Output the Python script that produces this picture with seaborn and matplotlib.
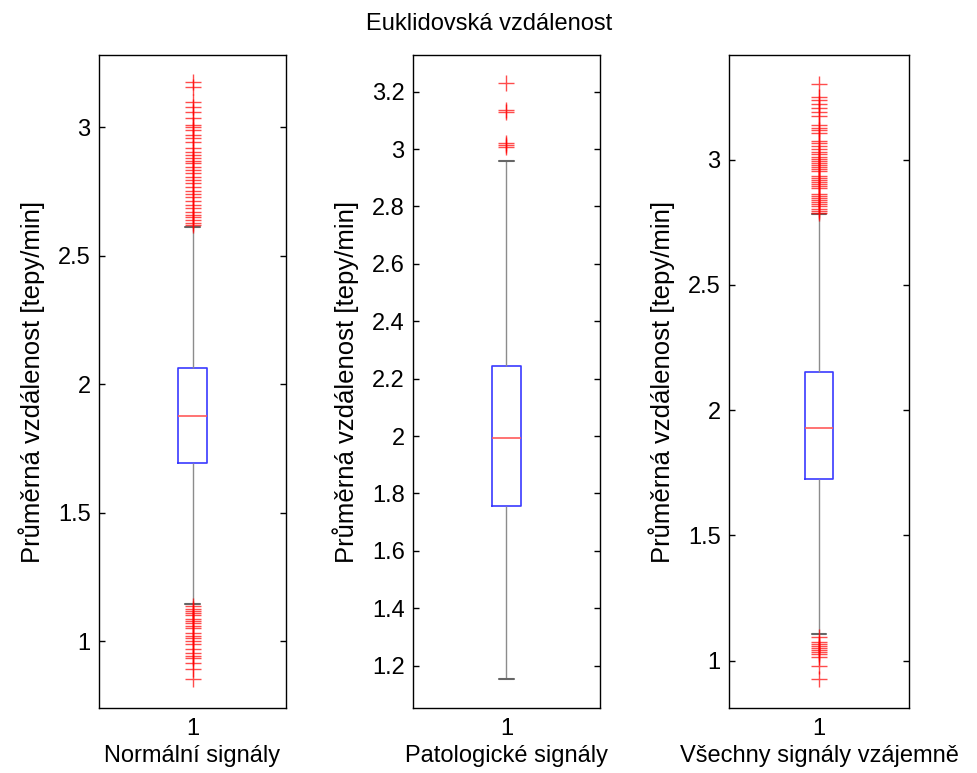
import matplotlib
matplotlib.use("Agg")
import matplotlib.pyplot as plt
import seaborn as sns

# ---- texts -------------------------------------------------------------
title = "Euklidovská vzdálenost"
y_label = "Průměrná vzdálenost [tepy/min]"
group_labels = ["Normální signály", "Patologické signály", "Všechny signály vzájemně"]
category = "1"

# ---- five-number summaries: lower whisker, Q1, median, Q3, upper whisker
normal_summary = [1.144, 1.695, 1.878, 2.062, 2.613]
patho_summary = [1.153, 1.755, 1.994, 2.244, 2.959]
all_summary = [1.106, 1.727, 1.928, 2.151, 2.784]

# ---- outliers ----------------------------------------------------------
normal_outliers = [3.174, 3.158, 3.097, 3.080, 3.061, 3.035, 3.009, 3.000, 2.990,
                   2.970, 2.957, 2.944, 2.918, 2.905, 2.892, 2.879, 2.870, 2.860,
                   2.847, 2.834, 2.823, 2.808, 2.795, 2.782, 2.769, 2.753, 2.740,
                   2.728, 2.714, 2.698, 2.685, 2.672, 2.659, 2.649, 2.637, 2.626,
                   2.619,
                   1.135, 1.126, 1.118, 1.109, 1.102, 1.087, 1.079, 1.070, 1.061,
                   1.051, 1.031, 1.022, 1.012, 1.001, 0.990, 0.971, 0.953, 0.944,
                   0.934, 0.914, 0.893, 0.854]
patho_outliers = [3.229, 3.138, 3.128, 3.022, 3.014, 3.006]
all_outliers = [3.304, 3.250, 3.237, 3.221, 3.205, 3.189, 3.173, 3.137, 3.127,
                3.119, 3.106, 3.076, 3.066, 3.055, 3.041, 3.031, 3.023, 3.009,
                3.001, 2.993, 2.985, 2.977, 2.969, 2.961, 2.953, 2.936, 2.928,
                2.920, 2.912, 2.902, 2.894, 2.886, 2.865, 2.857, 2.848, 2.840,
                2.832, 2.824, 2.816, 2.802, 2.795, 2.788,
                1.094, 1.075, 1.067, 1.059, 1.051, 1.043, 1.035, 1.027, 1.015,
                0.977, 0.928]

# ---- axis ticks and limits --------------------------------------------
ticks_a = [1, 1.5, 2, 2.5, 3]
tick_labels_a = ["1", "1.5", "2", "2.5", "3"]
ticks_b = [1.2, 1.4, 1.6, 1.8, 2.0, 2.2, 2.4, 2.6, 2.8, 3.0, 3.2]
tick_labels_b = ["1.2", "1.4", "1.6", "1.8", "2", "2.2", "2.4", "2.6", "2.8", "3", "3.2"]
ylims = [(0.740, 3.281), (1.052, 3.328), (0.811, 3.418)]

panels = [
    (normal_summary, normal_outliers, group_labels[0], ticks_a, tick_labels_a, ylims[0]),
    (patho_summary, patho_outliers, group_labels[1], ticks_b, tick_labels_b, ylims[1]),
    (all_summary, all_outliers, group_labels[2], ticks_a, tick_labels_a, ylims[2]),
]

sns.set_theme(style="white", rc={
    "axes.edgecolor": "black", "axes.linewidth": 1.0,
    "text.color": "black", "axes.labelcolor": "black",
    "xtick.color": "black", "ytick.color": "black",
})
plt.rcParams["font.family"] = ["Liberation Sans", "DejaVu Sans"]

W, H = 978, 773
fig = plt.figure(figsize=(W / 100, H / 100), dpi=100)
lefts = [99, 413, 729]
widths = [187, 187, 180]
top, bottom = 55, 708

FS = 17
for (summary, outliers, xlabel, ticks, tlabels, ylim), left, width in zip(panels, lefts, widths):
    ax = fig.add_axes([left / W, 1 - bottom / H, width / W, (bottom - top) / H])
    lo, q1, med, q3, hi = summary
    # sample whose quartiles and extremes reproduce the summary
    core = [lo, q1, q1, med, q3, q3, hi]
    sns.boxplot(
        x=[category] * len(core), y=core, ax=ax, width=0.155, whis=(0, 100),
        fill=False,
        boxprops=dict(color="#3a3aff", linewidth=1.2),
        medianprops=dict(color="#ff5a5a", linewidth=1.2),
        whiskerprops=dict(color="#8c8c8c", linewidth=1.0),
        capprops=dict(color="#666666", linewidth=1.5),
    )
    sns.stripplot(
        x=[category] * len(outliers), y=outliers, ax=ax, jitter=False,
        marker="+", size=12, color="red", linewidth=1.0, alpha=0.7, zorder=4,
    )
    ax.set_xlim(-0.5, 0.5)
    ax.set_ylim(*ylim)
    ax.set_yticks(ticks, tlabels)
    ax.set_xlabel(xlabel, fontsize=FS, labelpad=4, color="black")
    ax.set_ylabel(y_label, fontsize=18.5, labelpad=9, color="black")
    ax.tick_params(axis="y", direction="in", left=True, right=True, length=4,
                   width=1, pad=6, labelsize=FS, color="black", labelcolor="black")
    ax.tick_params(axis="x", length=0, pad=7, labelsize=FS, labelcolor="black")
    for sp in ax.spines.values():
        sp.set_visible(True)
        sp.set_color("black")
        sp.set_linewidth(1.0)

fig.text(0.5, 1 - 24 / H, title, ha="center", va="center", fontsize=FS, color="black")
fig.savefig("out.png", dpi=100, facecolor="white")
